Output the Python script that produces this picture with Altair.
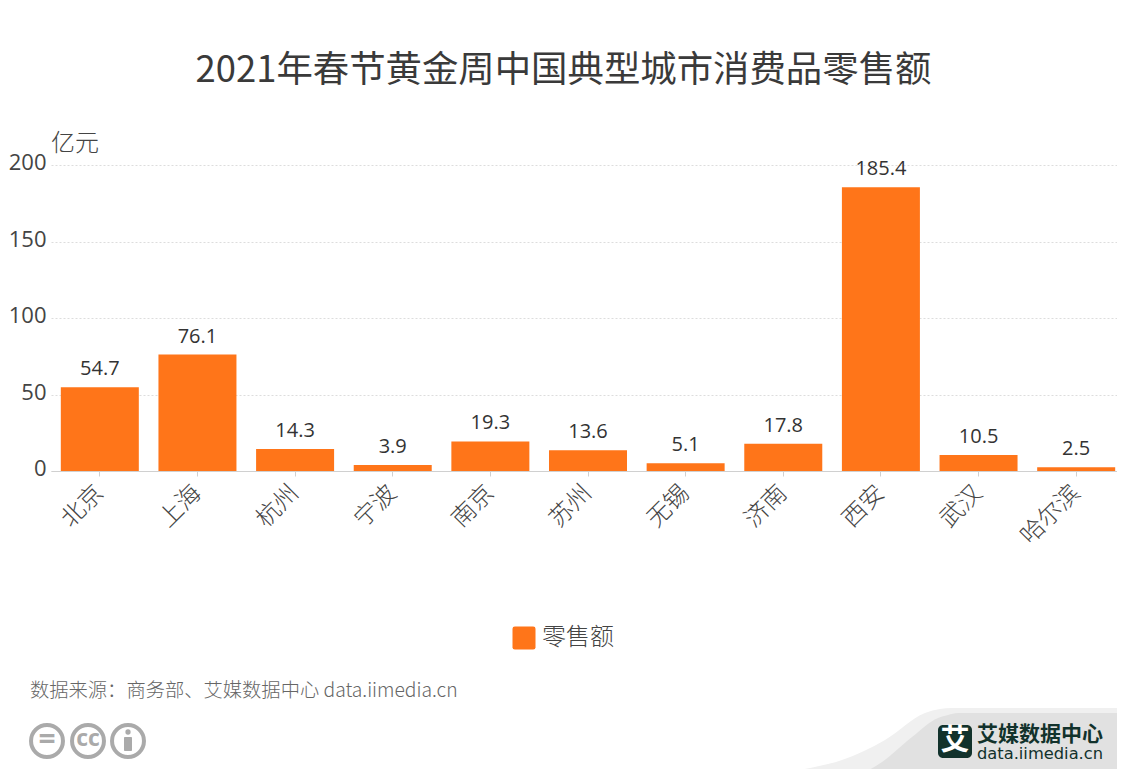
import altair as alt
import pandas as pd

cities = ["北京", "上海", "杭州", "宁波", "南京", "苏州", "无锡", "济南", "西安", "武汉", "哈尔滨"]
values = [54.7, 76.1, 14.3, 3.9, 19.3, 13.6, 5.1, 17.8, 185.4, 10.5, 2.5]
series_name = "零售额"
y_ticks = [0, 50, 100, 150, 200]
title_text = "2021年春节黄金周中国典型城市消费品零售额"
unit_text = "亿元"
source_text = "数据来源：商务部、艾媒数据中心 data.iimedia.cn"
brand_text = "艾媒数据中心"
brand_url = "data.iimedia.cn"

swoosh_outer_x = [765, 800, 842, 885, 925, 940, 952, 1125]
swoosh_outer_y = [777, 770, 760, 740, 713, 709, 708, 708]
swoosh_inner_x = [855, 882, 912, 938, 948, 958, 1125]
swoosh_inner_y = [777, 762, 737, 718, 715, 713, 713]

FONT = "Open Sans, Noto Sans CJK SC, sans-serif"
CJK = "Noto Sans CJK SC, sans-serif"
ORANGE = "#ff7519"
W, H = 1074, 306
PL, PT = 43, 157
TOTAL_W, TOTAL_H = 1109, 761

df = pd.DataFrame({"city": cities, "value": values, "series": series_name})

x = alt.X("city:N", sort=cities, title=None,
          scale=alt.Scale(paddingInner=0.2, paddingOuter=0.1),
          axis=alt.Axis(labelAngle=315, labelFontSize=24, labelFont=CJK, labelFontWeight=300,
                        labelColor="#444444", labelAlign="right", labelBaseline="middle",
                        labelPadding=13, labelOffset=0,
                        domainColor="#d0d0d0", tickColor="#d0d0d0", tickSize=5, grid=False))
y = alt.Y("value:Q", title=None, scale=alt.Scale(domain=[0, 200], nice=False),
          axis=alt.Axis(values=y_ticks, labelFontSize=22, labelFont=FONT, labelColor="#444444",
                        labelPadding=5, labelOffset=-2.5, domain=False, ticks=False, grid=True,
                        gridColor="#dddddd", gridDash=[2, 2], gridWidth=1))

bars = alt.Chart(df).mark_bar(size=78).encode(
    x=x, y=y,
    color=alt.Color("series:N", scale=alt.Scale(range=[ORANGE]),
                    legend=alt.Legend(title=None, orient="none", legendX=461, legendY=461,
                                      symbolType="M-0.8,-1 H0.8 Q1,-1 1,-0.8 V0.8 Q1,1 0.8,1 H-0.8 Q-1,1 -1,0.8 V-0.8 Q-1,-1 -0.8,-1 Z",
                                      symbolSize=529, symbolStrokeWidth=0, symbolOpacity=1,
                                      labelFontSize=24, labelFont=CJK, labelFontWeight=300, labelColor="#444444",
                                      labelOffset=6)),
)
labels = alt.Chart(df).mark_text(dy=-18, fontSize=20, font=FONT, color="#333333").encode(
    x=alt.X("city:N", sort=cities), y=alt.Y("value:Q"), text=alt.Text("value:Q", format=".1f")
)
main = alt.layer(bars, labels)


def page_x(px):
    return alt.value(px - (8 + PL))


def page_y(py):
    return alt.value(py - (8 + PT))


def note(text, px, py, size, color="#333333", font=CJK, weight=300, align="left"):
    return alt.Chart(pd.DataFrame({"t": [text]})).mark_text(
        text=text, fontSize=size, font=font, fontWeight=weight, color=color, align=align, baseline="middle"
    ).encode(x=page_x(px), y=page_y(py))


def swoosh(xs, ys, color):
    d = pd.DataFrame({"px": xs, "py": ys, "base": [777] * len(xs)})
    return alt.Chart(d).mark_area(color=color, interpolate="monotone", clip=False).encode(
        x=alt.X("px:Q", axis=None, scale=alt.Scale(domain=[51, 1125], range=[0, W])),
        y=alt.Y("py:Q", axis=None, scale=alt.Scale(domain=[165, 471], range=[0, H])),
        y2="base:Q",
    )


deco_bg = alt.layer(swoosh(swoosh_outer_x, swoosh_outer_y, "#f0f0f0"),
                    swoosh(swoosh_inner_x, swoosh_inner_y, "#e1e1e1"))


def ring(px):
    return alt.Chart(pd.DataFrame({"a": [1]})).mark_point(
        shape="circle", size=1020, filled=False, stroke="#aaaaaa", strokeWidth=4, opacity=1
    ).encode(x=page_x(px), y=page_y(741))


logo_box = alt.Chart(pd.DataFrame({"a": [1]})).mark_rect(color="#12322c", cornerRadius=5).encode(
    x=page_x(938), x2=page_x(972), y=page_y(725), y2=page_y(758))
person_head = alt.Chart(pd.DataFrame({"a": [1]})).mark_point(
    shape="circle", size=28, filled=True, color="#aaaaaa", opacity=1).encode(x=page_x(128), y=page_y(732))
person_body = alt.Chart(pd.DataFrame({"a": [1]})).mark_rect(color="#aaaaaa", cornerRadius=1).encode(
    x=page_x(124), x2=page_x(132), y=page_y(737), y2=page_y(751))

overlay = alt.layer(
    note(title_text, 563.5, 71, 36.4, color="#3a3a3a", align="center", font=CJK, weight=400),
    note(unit_text, 51, 144, 24, color="#444444"),
    note(source_text, 30, 691, 19.3, color="#666666"),
    ring(47), ring(88), ring(128),
    note("=", 47, 740, 30, color="#aaaaaa", font=FONT, weight=700, align="center"),
    note("cc", 88, 739, 23, color="#aaaaaa", font=FONT, weight=700, align="center"),
    person_head, person_body,
    logo_box,
    note("艾", 955, 741, 29, color="#ffffff", weight=700, align="center"),
    note(brand_text, 977, 735, 21, color="#12322c", weight=700),
    note(brand_url, 977, 754, 16.3, color="#12322c", font="DejaVu Sans", weight=400),
)

chart = alt.layer(deco_bg, main, overlay).resolve_scale(
    x="independent", y="independent"
).properties(
    width=W, height=H,
    autosize=alt.AutoSizeParams(type="none"),
    padding={"left": PL, "top": PT, "right": TOTAL_W - PL - W, "bottom": TOTAL_H - PT - H},
).configure_view(stroke=None)

chart.save("out.html", embed_options={"renderer": "svg", "actions": False})
